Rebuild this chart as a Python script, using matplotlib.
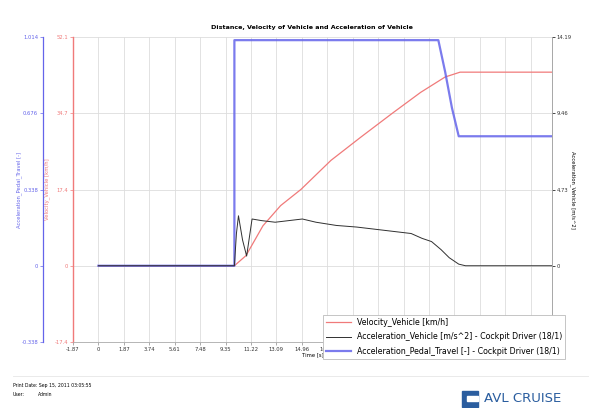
import numpy as np
import matplotlib
matplotlib.use('Agg')
import matplotlib.pyplot as plt
from matplotlib.patches import Rectangle

# time [s] and signals
pedal_t = [0, 10.0, 10.0, 25.0, 25.5, 26.0, 26.5, 33.36]
pedal_v = [0, 0, 1.0, 1.0, 0.86, 0.70, 0.574, 0.574]

vel_t = [0, 10.0, 10.85, 12.1, 13.4, 14.9, 17.1, 19.3, 21.6, 23.7, 25.5, 26.6, 33.36]
vel_v = [0, 0, 2.3, 9.1, 13.7, 17.4, 24.0, 29.3, 34.7, 39.5, 43.0, 44.1, 44.1]

acc_t = [0, 10.0, 10.15, 10.3, 10.6, 10.9, 11.3, 12.0, 13.0, 14.0, 15.0, 16.0, 17.5,
         19.0, 20.5, 22.0, 23.0, 23.8, 24.5, 25.2, 25.8, 26.5, 27.0, 33.36]
acc_v = [0, 0, 2.0, 3.1, 1.6, 0.6, 2.9, 2.8, 2.7, 2.8, 2.9, 2.7, 2.5,
         2.4, 2.25, 2.1, 2.0, 1.7, 1.5, 1.0, 0.5, 0.1, 0, 0]

xticks = [round(-1.87 + 1.87 * i, 2) for i in range(19)]
vel_ticks = [-17.37, 0, 17.37, 34.74, 52.11]
vel_labels = ['-17.4', '0', '17.4', '34.7', '52.1']
ped_ticks = [-0.338, 0, 0.338, 0.676, 1.014]
ped_labels = ['-0.338', '0', '0.338', '0.676', '1.014']
acc_ticks = [0, 4.73, 9.46, 14.19]
acc_labels = ['0', '4.73', '9.46', '14.19']

red = '#f07a7a'
blue = '#6464ea'
fs = 3.8

fig = plt.figure(figsize=(5.9, 4.08), dpi=100)
ax = fig.add_axes([73 / 590, 1 - 342 / 408, 479 / 590, 305 / 408])
axb = ax.twinx()
axa = ax.twinx()

# red velocity axis on the left
ax.yaxis.tick_left()
ax.set_xlim(-1.87, 33.36)
ax.set_ylim(-17.37, 52.11)
ax.set_xticks(xticks)
ax.set_xticklabels(['%.2f' % t if t != 0 else '0' for t in xticks], fontsize=fs, color='#333333')
ax.set_yticks(vel_ticks)
ax.set_yticklabels(vel_labels, fontsize=fs, color=red)
ax.grid(True, color='#dddddd', lw=0.6)
ax.spines['left'].set_color(red)
ax.spines['left'].set_linewidth(1.0)
ax.spines['top'].set_visible(False)
ax.spines['right'].set_visible(False)
ax.spines['bottom'].set_color('#aaaaaa')
ax.spines['bottom'].set_linewidth(0.6)
ax.tick_params(axis='y', colors=red, length=2, width=0.5, pad=1.5)
ax.tick_params(axis='x', length=2, width=0.5, pad=1.5, colors='#888888', labelcolor='#333333')
ax.set_ylabel('Velocity_Vehicle [km/h]', fontsize=fs, color=red)
ax.yaxis.set_label_coords(-23 / 479, 0.5)
ax.set_xlabel('Time [s]', fontsize=fs, labelpad=0.5)
l1, = ax.plot(vel_t, vel_v, color=red, lw=0.9, label='Velocity_Vehicle [km/h]')

# blue pedal axis further left
axb.spines['left'].set_position(('axes', -30 / 479))
axb.spines['left'].set_visible(True)
axb.spines['left'].set_color(blue)
axb.spines['left'].set_linewidth(0.9)
for s in ['right', 'top', 'bottom']:
    axb.spines[s].set_visible(False)
axb.yaxis.tick_left()
axb.set_ylim(-0.338, 1.014)
axb.set_yticks(ped_ticks)
axb.set_yticklabels(ped_labels, fontsize=fs, color=blue)
axb.tick_params(axis='y', colors=blue, length=2, width=0.5, pad=1.5)
axb.set_ylabel('Acceleration_Pedal_Travel [-]', fontsize=fs, color=blue)
axb.yaxis.set_label_position('left')
axb.yaxis.set_label_coords(-51 / 479, 0.5)
l3, = axb.plot(pedal_t, pedal_v, color=blue, lw=1.6, alpha=0.85,
               label='Acceleration_Pedal_Travel [-] - Cockpit Driver (18/1)')

# black acceleration axis on the right
axa.set_ylim(-4.73, 14.19)
axa.set_yticks(acc_ticks)
axa.set_yticklabels(acc_labels, fontsize=fs, color='#333333')
axa.spines['right'].set_color('#999999')
axa.spines['right'].set_linewidth(0.6)
for s in ['left', 'top', 'bottom']:
    axa.spines[s].set_visible(False)
axa.tick_params(axis='y', length=2, width=0.5, pad=1.5)
axa.set_ylabel('Acceleration_Vehicle [m/s^2]', fontsize=fs, rotation=-90)
axa.yaxis.set_label_coords(1 + 24 / 479, 0.5)
l2, = axa.plot(acc_t, acc_v, color='#303030', lw=0.7,
               label='Acceleration_Vehicle [m/s^2] - Cockpit Driver (18/1)')

fig.text(312 / 590, 1 - 27 / 408, 'Distance, Velocity of Vehicle and Acceleration of Vehicle',
         ha='center', va='center', fontsize=4.6, fontweight='bold')

leg = fig.legend(handles=[l1, l2, l3], loc='lower right',
                 bbox_to_anchor=(565 / 590, 1 - 359 / 408), fontsize=5.7,
                 frameon=True, fancybox=False, edgecolor='#bbbbbb', framealpha=1,
                 handlelength=3.2, handletextpad=0.7, borderpad=0.4, labelspacing=0.7,
                 borderaxespad=0)
leg.get_frame().set_linewidth(0.6)
leg.set_zorder(10)

# footer
fig.add_artist(plt.Line2D([13 / 590, 588 / 590], [1 - 376 / 408] * 2, color='#e6e6e6', lw=0.6))
fig.text(13 / 590, 1 - 385 / 408, 'Print Date: Sep 15, 2011 03:05:55', fontsize=3.3, va='center')
fig.text(13 / 590, 1 - 394 / 408, 'User:', fontsize=3.3, va='center')
fig.text(38 / 590, 1 - 394 / 408, 'Admin', fontsize=3.3, va='center')
fig.add_artist(Rectangle((462 / 590, 1 - 407 / 408), 16 / 590, 16 / 408, color='#2a5d9f'))
fig.add_artist(Rectangle((467 / 590, 1 - 401 / 408), 11 / 590, 5 / 408, color='white'))
fig.text(484 / 590, 1 - 399 / 408, 'AVL CRUISE', fontsize=9.5, color='#2a5d9f', va='center',
         family='DejaVu Sans')

fig.savefig('out.png', dpi=100)
